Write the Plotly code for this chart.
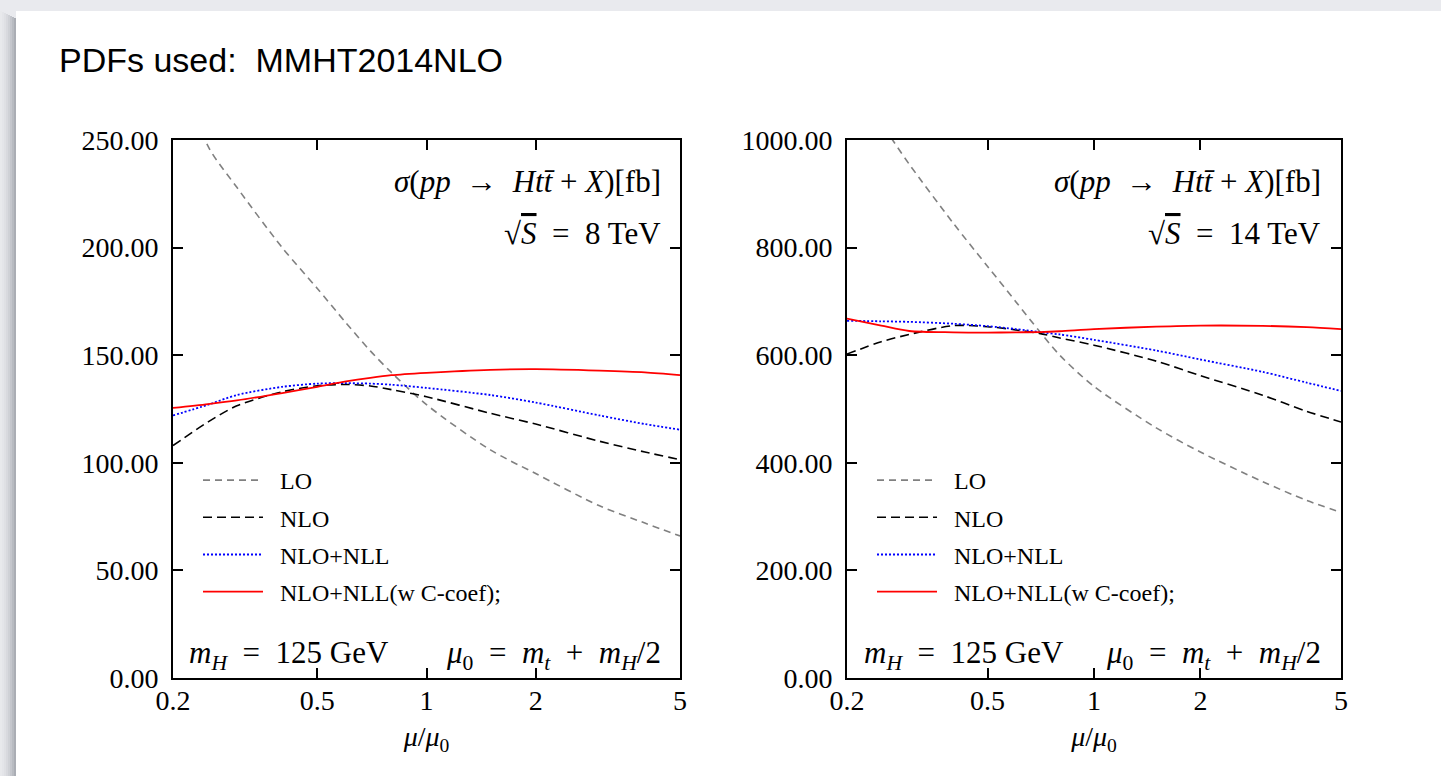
import math
import plotly.graph_objects as go

# Scale ratio mu/mu0 at which the cross sections are evaluated
mu_ratio = [0.2, 0.25, 0.3, 0.4, 0.5, 0.6, 0.7, 0.8, 1.0, 1.5, 2.0, 3.0, 4.0, 5.0]

# sigma(pp -> H t tbar + X) [fb], sqrt(S) = 8 TeV
lo_8 = [290, 247, 228, 200, 181, 165, 152, 142, 127, 106, 95, 80, 72, 66]
nlo_8 = [108, 119, 126.5, 133, 135.8, 136.4, 135.7, 134, 130.7, 123, 118, 110, 105, 101.5]
nll_8 = [122, 127, 131.5, 135.3, 136.8, 137, 136.8, 136.3, 134.8, 131.5, 128, 122, 118, 115.4]
nllc_8 = [125.5, 127.3, 129, 132.4, 135.3, 137.8, 139.5, 140.7, 141.8, 143.2, 143.5, 142.8, 142, 140.7]

# sigma(pp -> H t tbar + X) [fb], sqrt(S) = 14 TeV
lo_14 = [1110, 1030, 955, 845, 765, 700, 645, 600, 542, 465, 420, 365, 330, 308]
nlo_14 = [602, 625, 638.6, 655, 653, 647, 640.6, 632, 618.6, 589, 562, 525.6, 495.7, 475.8]
nll_14 = [664, 663, 662, 658.5, 654, 648.6, 643, 638.6, 628.6, 608.7, 592, 569, 549, 533.6]
nllc_14 = [668, 655, 645, 642.5, 642, 642.5, 643, 644.5, 648.5, 653, 655, 654.5, 652, 648.5]

series_names = ["LO", "NLO", "NLO+NLL", "NLO+NLL(w C-coef);"]
series_colors = ["#808080", "#000000", "#0000ff", "#ff0000"]
series_dash = ["7px,5px", "9px,5px", "2px,2px", "solid"]
series_width = [1.6, 1.6, 1.8, 1.8]

x_ticks = [0.2, 0.5, 1, 2, 5]
x_ticktext = ["0.2", "0.5", "1", "2", "5"]
y_ticks_8 = [0, 50, 100, 150, 200, 250]
y_ticks_14 = [0, 200, 400, 600, 800, 1000]

W, H = 1441, 776
SERIF = "Liberation Serif"


def px_x(p):
    return p / W


def px_y(p):
    return 1 - p / H


fig = go.Figure()

panels = [
    ("x", "y", "legend", [lo_8, nlo_8, nll_8, nllc_8]),
    ("x2", "y2", "legend2", [lo_14, nlo_14, nll_14, nllc_14]),
]
for xa, ya, leg, data in panels:
    for i, (name, color, dash, lw, vals) in enumerate(
            zip(series_names, series_colors, series_dash, series_width, data)):
        fig.add_trace(go.Scatter(
            x=mu_ratio, y=vals, name="\u2002" + name, mode="lines",
            line=dict(color=color, dash=dash, width=lw,
                      shape="spline", smoothing=0.8),
            xaxis=xa, yaxis=ya, legend=leg, legendgroup=f"{leg}-{i}",
        ))

x_common = dict(
    type="log", range=[math.log10(0.2), math.log10(5)],
    tickmode="array", tickvals=x_ticks, ticktext=x_ticktext,
    ticks="inside", ticklen=10, tickwidth=1.5, tickcolor="black",
    showline=True, linewidth=2, linecolor="black", mirror="ticks",
    showgrid=False, zeroline=False,
    tickfont=dict(family=SERIF, size=28, color="black"),
    ticklabelstandoff=-4,
    title=dict(text="<i>μ</i>/<i>μ</i><sub>0</sub>",
               font=dict(family=SERIF, size=28, color="black"), standoff=12),
)
y_common = dict(
    ticks="inside", ticklen=10, tickwidth=1.5, tickcolor="black",
    showline=True, linewidth=2, linecolor="black", mirror="ticks",
    showgrid=False, zeroline=False, tickformat=".2f",
    tickfont=dict(family=SERIF, size=28, color="black"),
    ticklabelstandoff=7,
)

y_dom = [px_y(678), px_y(140)]
fig.update_layout(
    width=W, height=H,
    margin=dict(l=0, r=0, t=0, b=0, autoexpand=False),
    paper_bgcolor="#e9eaee",
    plot_bgcolor="white",
    xaxis=dict(domain=[px_x(173), px_x(680)], anchor="y", **x_common),
    yaxis=dict(domain=y_dom, anchor="x", range=[0, 250],
               tickmode="array", tickvals=y_ticks_8, **y_common),
    xaxis2=dict(domain=[px_x(847), px_x(1341)], anchor="y2", **x_common),
    yaxis2=dict(domain=y_dom, anchor="x2", range=[0, 1000],
                tickmode="array", tickvals=y_ticks_14, **y_common),
    showlegend=True,
)

legend_common = dict(
    xanchor="left", yanchor="top", bgcolor="rgba(0,0,0,0)",
    font=dict(family=SERIF, size=24, color="black"),
    tracegroupgap=3, itemwidth=60,
)
fig.update_layout(
    legend=dict(x=px_x(198), y=px_y(458), **legend_common),
    legend2=dict(x=px_x(872), y=px_y(458), **legend_common),
)

# Page card with a soft shadow on its left edge
shadow_cols = ["#e8e9ec", "#e4e5e9", "#dfe0e4", "#d8d9de", "#cfd1d6", "#c4c6cc",
               "#b8bbc1", "#aaadb4"]
shapes = []
for k, c in enumerate(shadow_cols):
    shapes.append(dict(type="rect", xref="paper", yref="paper", layer="below",
                       x0=px_x(k * 2), x1=px_x(k * 2 + 2), y0=0, y1=px_y(11 + k),
                       line=dict(width=0), fillcolor=c))
shapes.append(dict(type="rect", xref="paper", yref="paper", layer="below",
                   x0=px_x(16), x1=1.01, y0=-0.01, y1=px_y(11),
                   line=dict(width=0), fillcolor="white"))
fig.update_layout(shapes=shapes)

ann_font = dict(family=SERIF, size=31, color="black")
S_OVER = '<span style="text-decoration:overline"><i>S</i></span>'
annotations = [
    dict(text="PDFs used:  MMHT2014NLO", x=px_x(57), y=px_y(60), xanchor="left",
         yanchor="middle", font=dict(family="Liberation Sans", size=34, color="black")),
]
for xa, ya, energy, xl, xr in (("x", "y", "8", 0.028, 0.967), ("x2", "y2", "14", 0.030, 0.964)):
    annotations += [
        dict(text="<i>σ</i>(<i>pp</i>  →  <i>Ht</i><i>t̄</i> + <i>X</i>)[fb]",
             xref=f"{xa} domain", yref=f"{ya} domain", x=xr, y=0.922,
             xanchor="right", yanchor="middle", font=ann_font),
        dict(text=f"√{S_OVER}  =  {energy} TeV",
             xref=f"{xa} domain", yref=f"{ya} domain", x=xr, y=0.827,
             xanchor="right", yanchor="middle", font=ann_font),
        dict(text="<i>m</i><sub><i>H</i></sub>  =  125 GeV",
             xref=f"{xa} domain", yref=f"{ya} domain", x=xl, y=0.043,
             xanchor="left", yanchor="middle", font=ann_font),
        dict(text="<i>μ</i><sub>0</sub>  =  <i>m</i><sub><i>t</i></sub>  +  <i>m</i><sub><i>H</i></sub>/2",
             xref=f"{xa} domain", yref=f"{ya} domain", x=xr, y=0.043,
             xanchor="right", yanchor="middle", font=ann_font),
    ]
for a in annotations:
    a.setdefault("xref", "paper")
    a.setdefault("yref", "paper")
    a["showarrow"] = False
fig.update_layout(annotations=annotations)

fig.write_html("out.html")
